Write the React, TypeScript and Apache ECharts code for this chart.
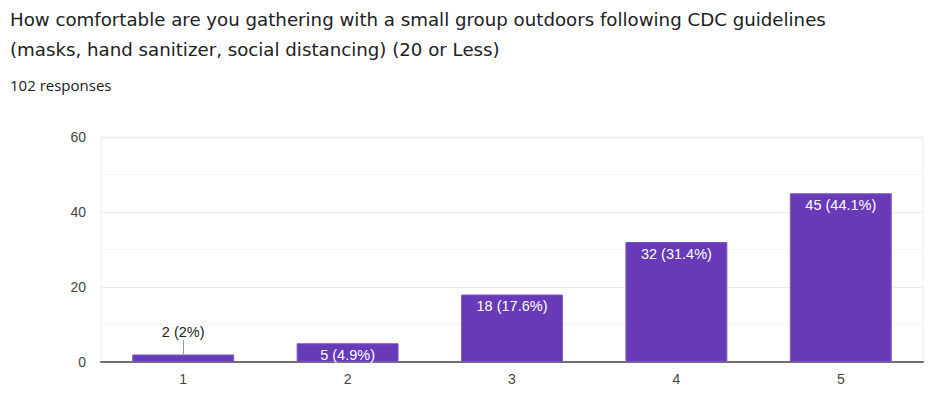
import React, { useEffect, useRef } from "react";
import * as echarts from "echarts";

const titleLines = [
  "How comfortable are you gathering with a small group outdoors following CDC guidelines",
  "(masks, hand sanitizer, social distancing) (20 or Less)",
];
const subtitle = "102 responses";
const categories = ["1", "2", "3", "4", "5"];
const counts = [2, 5, 18, 32, 45];
const percents = ["2%", "4.9%", "17.6%", "31.4%", "44.1%"];
const yTicks = { min: 0, max: 60, interval: 20 };

export default function App() {
  const ref = useRef<HTMLDivElement>(null);
  useEffect(() => {
    if (!ref.current) return;
    const chart = echarts.init(ref.current, undefined, { renderer: "svg" });
    const data = counts.map((v, i) => {
      const outside = v < 4;
      return {
        value: v,
        label: outside
          ? { position: "top", distance: 15, color: "#222222" }
          : { position: "insideTop", distance: 4, color: "#ffffff" },
      };
    });
    chart.setOption({
      animation: false,
      title: [
        {
          text: titleLines.join("\n"),
          left: 10,
          top: 4,
          padding: 0,
          textStyle: {
            fontFamily: "DejaVu Sans",
            fontSize: 18.2,
            fontWeight: "normal",
            color: "#202124",
            lineHeight: 30,
          },
        },
        {
          text: subtitle,
          left: 10,
          top: 75,
          padding: 0,
          textStyle: {
            fontFamily: "Open Sans",
            fontSize: 15,
            fontWeight: "normal",
            color: "#202124",
            lineHeight: 20,
          },
        },
      ],
      grid: {
        left: 101,
        right: 8,
        top: 137,
        bottom: 36,
        show: true,
        borderColor: "#ececec",
        borderWidth: 1,
      },
      xAxis: {
        type: "category",
        data: categories,
        axisTick: { show: false },
        axisLine: { lineStyle: { color: "#6f6f6f", width: 2 } },
        axisLabel: {
          color: "#444444",
          fontFamily: "Liberation Sans",
          fontSize: 14,
          margin: 10,
        },
      },
      yAxis: {
        type: "value",
        min: yTicks.min,
        max: yTicks.max,
        interval: yTicks.interval,
        axisLine: { show: false },
        axisTick: { show: false },
        axisLabel: {
          color: "#444444",
          fontFamily: "Liberation Sans",
          fontSize: 14,
          margin: 15,
        },
        splitLine: { lineStyle: { color: "#ebebeb", width: 1 } },
        minorTick: { show: false, splitNumber: 2 },
        minorSplitLine: { show: true, lineStyle: { color: "#f5f5f5", width: 1 } },
      },
      series: [
        {
          type: "bar",
          data,
          barWidth: "62%",
          itemStyle: { color: "#673ab7", borderColor: "#7e57c2", borderWidth: 1 },
          label: {
            show: true,
            fontFamily: "Liberation Sans",
            fontSize: 14.5,
            formatter: (p: any) => `${counts[p.dataIndex]} (${percents[p.dataIndex]})`,
          },
          markLine: {
            silent: true,
            symbol: "none",
            label: { show: false },
            lineStyle: { color: "#999999", width: 1, type: "solid" },
            data: [[{ coord: [0, counts[0]] }, { coord: [0, 5.9] }]],
          },
        },
      ],
    });
    return () => chart.dispose();
  }, []);
  return (
    <div
      ref={ref}
      style={{ position: "absolute", left: 0, top: 0, width: 931, height: 398 }}
    />
  );
}
